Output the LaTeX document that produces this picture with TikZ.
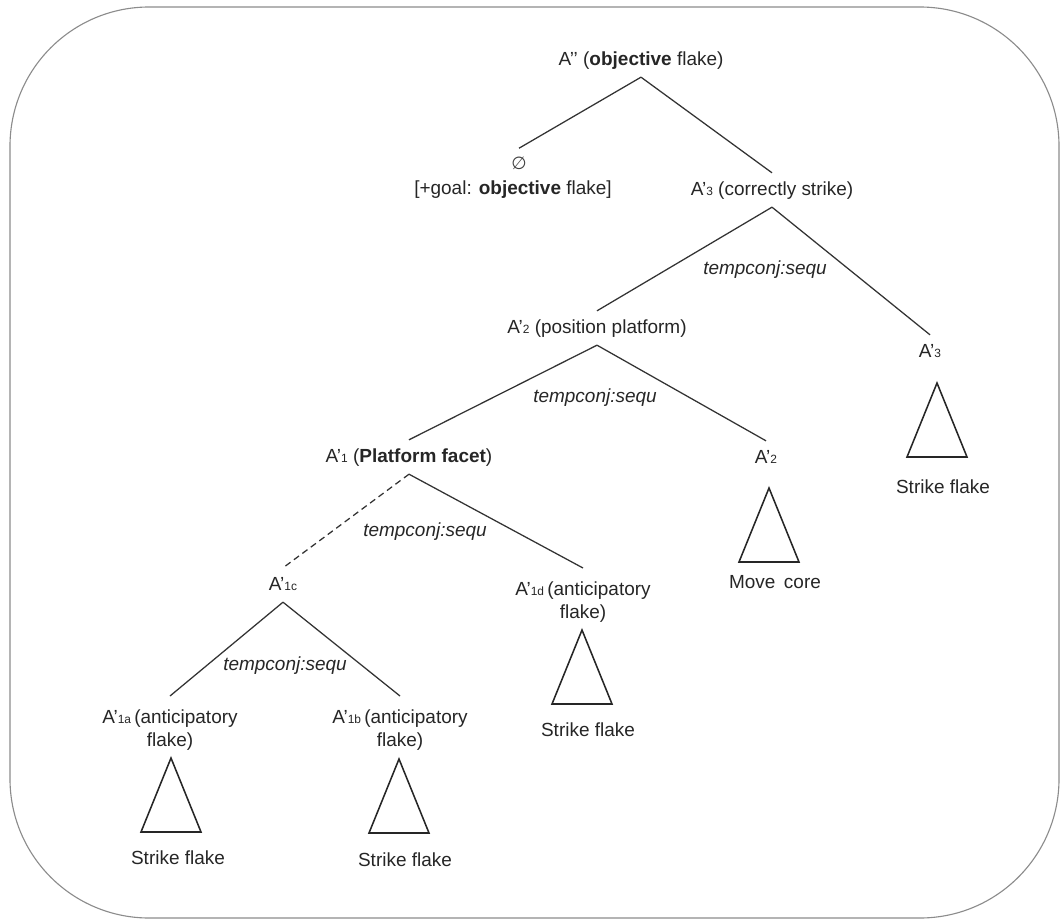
\documentclass[tikz,border=0pt]{standalone}
\usepackage{fontspec}
\setmainfont{Liberation Sans}
\newfontfamily\symfont{DejaVu Sans}
\newcommand{\low}[1]{{\fontsize{8.5}{10}\selectfont #1}}

\begin{document}
\begin{tikzpicture}[x=0.25mm,y=-0.25mm,line width=0.9pt,
  lbl/.style={font=\fontsize{13.5}{16.4}\selectfont,text=black!85,inner sep=0pt,text height=0.95em,text depth=0.234em,outer ysep=6.3pt},
  lbltwo/.style={font=\fontsize{13.5}{16.4}\selectfont,text=black!85,inner sep=0pt,align=center,anchor=north,outer ysep=10pt},
  tag/.style={font=\fontsize{13.5}{16}\selectfont\itshape,text=black!85,inner sep=0pt},
  leaf/.style={font=\fontsize{13.5}{16}\selectfont,text=black!85,inner sep=0pt},
  branch/.style={draw=black!80},
  tri/.style={draw=black!85,line width=1.1pt,line join=miter}]
	\useasboundingbox (0,0) rectangle (1061,921);
	\draw [black!45,line width=0.8pt,rounded corners=99pt] (10,7) rectangle (1059,918);
	\node at (519,163) [leaf,font=\symfont\fontsize{12.5}{14}\selectfont,text=black!75,outer ysep=6pt] (empty) {∅};
	\node at (641,60) [lbl] (top) {A’’ (\textbf{objective} flake)};
	\node at (513,190) [leaf] (goal) {[+goal: \textbf{objective} flake]};
	\node at (772,190) [lbl] (a3) {A’\low{3} (correctly strike)};
	\node at (597,328) [lbl] (a2) {A’\low{2} (position platform)};
	\node at (930,352) [lbl] (a3leaf) {A’\low{3}};
	\node at (409,457) [lbl] (a1) {A’\low{1} (\textbf{Platform facet})};
	\node at (766,458) [lbl] (a2leaf) {A’\low{2}};
	\node at (283,585) [lbl] (a1c) {A’\low{1c}};
	\node at (583,568) [lbltwo] (a1d) {A’\low{1d}\,(anticipatory\\flake)};
	\node at (170,696) [lbltwo] (a1a) {A’\low{1a}\,(anticipatory\\flake)};
	\node at (400,696) [lbltwo] (a1b) {A’\low{1b}\,(anticipatory\\flake)};
	\node at (765,270) [tag] (t3) {tempconj:sequ};
	\node at (595,398) [tag] (t2) {tempconj:sequ};
	\node at (425,532) [tag] (t1) {tempconj:sequ};
	\node at (285,666) [tag] (t1c) {tempconj:sequ};
	\foreach \x/\y in {937/383,769/488,582/630,171/758,399/759}
		\draw [tri] (\x,\y) -- ++(-30,74) -- ++(60,0) -- cycle;
	\node at (943,487) [leaf] (sf3) {Strike flake};
	\node at (775,582) [leaf] (mc2) {Move\, core};
	\node at (588,730) [leaf] (sf1d) {Strike flake};
	\node at (178,858) [leaf] (sf1a) {Strike flake};
	\node at (405,860) [leaf] (sf1b) {Strike flake};
	\draw [branch] (top.south) to (empty.north);
	\draw [branch] (top.south) to (a3.north);
	\draw [branch] (a3.south) to (a2.north);
	\draw [branch] (a3.south) to (a3leaf.north);
	\draw [branch] (a2.south) to (a1.north);
	\draw [branch] (a2.south) to (a2leaf.north);
	\draw [branch,dash pattern=on 4.5pt off 3pt] (a1.south) to (a1c.north);
	\draw [branch] (a1.south) to (a1d.north);
	\draw [branch] (a1c.south) to (a1a.north);
	\draw [branch] (a1c.south) to (a1b.north);
\end{tikzpicture}
\end{document}
